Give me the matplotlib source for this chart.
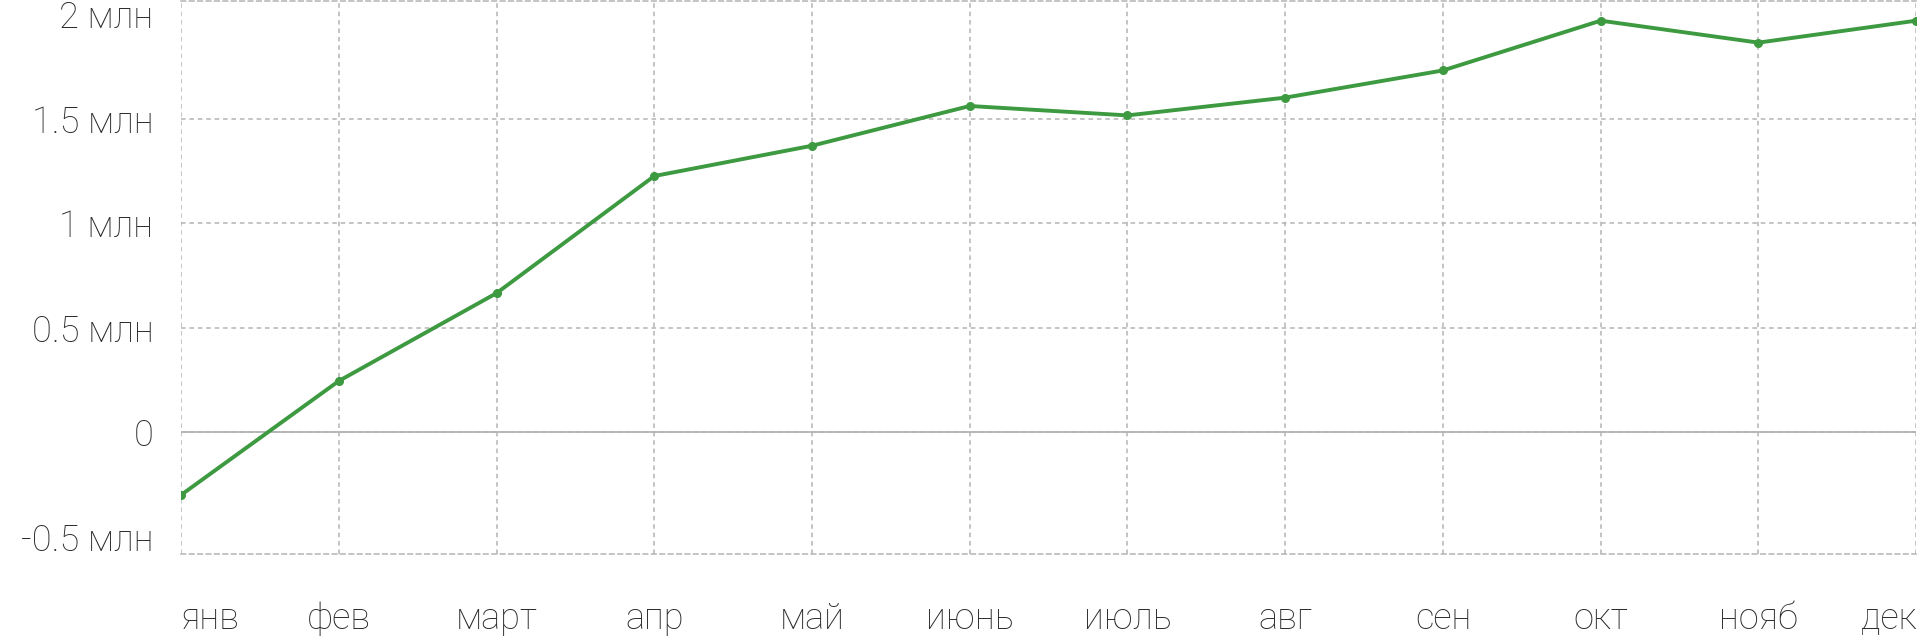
import matplotlib
matplotlib.use('Agg')
import matplotlib.pyplot as plt

months = ['янв', 'фев', 'март', 'апр', 'май', 'июнь', 'июль', 'авг', 'сен', 'окт', 'нояб', 'дек']
values = [-0.30e6, 0.245e6, 0.665e6, 1.225e6, 1.37e6, 1.56e6, 1.515e6, 1.60e6, 1.73e6, 1.968e6, 1.863e6, 1.968e6]

y_ticks = [-0.5e6, 0, 0.5e6, 1e6, 1.5e6, 2e6]
y_labels = ['-0.5 млн', '0', '0.5 млн', '1 млн', '1.5 млн', '2 млн']

plt.rcParams['font.family'] = ['Roboto', 'DejaVu Sans']

fig = plt.figure(figsize=(19.2, 6.36), dpi=100)
ax = fig.add_axes([0.0943, 0.1297, 0.9037, 0.8687])

x = list(range(len(months)))
ax.plot(x, values, color='#3d9a40', lw=2.8, marker='o', ms=5.5, zorder=3, solid_capstyle='round')

ax.axhline(0, color='#b4b4b4', lw=1.3, zorder=2)

ax.set_xlim(0, len(months) - 1)
ax.set_ylim(-0.58e6, 2.062e6)

dash = (0, (3, 2.5))
ax.grid(True, color='#b4b4b4', lw=1.1, linestyle=dash)
ax.set_axisbelow(True)

for side in ['left', 'right']:
    ax.spines[side].set_visible(False)
for side in ['top', 'bottom']:
    ax.spines[side].set_color('#b4b4b4')
    ax.spines[side].set_linewidth(1.1)
    ax.spines[side].set_linestyle(dash)

ax.set_yticks(y_ticks)
ax.set_yticklabels(y_labels)
ax.set_xticks(x)
ax.set_xticklabels(months)

# no gridlines for the outer ticks, only the dashed box edges
ygl = ax.yaxis.get_gridlines()
ygl[0].set_visible(False)
ygl[-1].set_visible(False)

ax.tick_params(axis='y', length=0, pad=20, labelsize=26, labelcolor='#2b2b2b')
ax.tick_params(axis='x', length=0, pad=34, labelsize=26, labelcolor='#2b2b2b')
for lbl in ax.get_yticklabels() + ax.get_xticklabels():
    lbl.set_fontweight('light')

xl = ax.get_xticklabels()
xl[0].set_horizontalalignment('left')
xl[-1].set_horizontalalignment('right')

fig.savefig('out.png', dpi=100)
